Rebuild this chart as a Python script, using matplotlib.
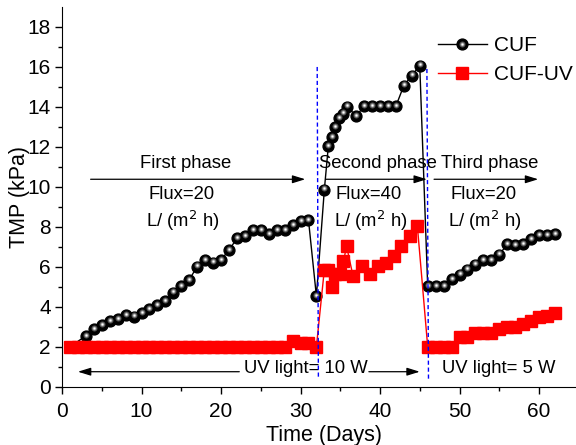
import matplotlib
matplotlib.use("Agg")
import matplotlib.pyplot as plt
import matplotlib.transforms as mtransforms
from matplotlib.legend_handler import HandlerTuple

plt.rcParams['font.family'] = ['Liberation Sans', 'DejaVu Sans']

# CUF (membrane without UV)
cuf_days = [1, 3, 4, 5, 6, 7, 8, 9, 10, 11, 12, 13, 14, 15, 16, 17, 18, 19, 20,
            21, 22, 23, 24, 25, 26, 27, 28, 29, 30, 31, 32,
            33, 33.5, 33.9, 34.3, 34.8, 35.4, 35.9, 37, 38, 39, 40, 41, 42, 43, 44, 45,
            46, 47, 48, 49, 50, 51, 52, 53, 54, 55, 56, 57, 58, 59, 60, 61, 62]
cuf_tmp = [2.0, 2.54, 2.87, 3.09, 3.29, 3.37, 3.57, 3.51, 3.68, 3.89, 4.08, 4.29,
           4.71, 5.04, 5.35, 6.01, 6.35, 6.21, 6.35, 6.83, 7.42, 7.55, 7.85, 7.85,
           7.62, 7.85, 7.85, 8.09, 8.29, 8.35, 4.53,
           9.86, 12.03, 12.5, 13.0, 13.45, 13.67, 14.01, 13.54, 14.04, 14.04, 14.04,
           14.04, 14.04, 15.07, 15.57, 16.07,
           5.02, 5.02, 5.02, 5.39, 5.61, 5.86, 6.11, 6.33, 6.33, 6.61, 7.12, 7.07,
           7.12, 7.37, 7.58, 7.58, 7.62]

# CUF-UV
uv_days = [1, 2, 3, 4, 5, 6, 7, 8, 9, 10, 11, 12, 13, 14, 15, 16, 17, 18, 19, 20,
           21, 22, 23, 24, 25, 26, 27, 28, 29, 30, 31, 32,
           33, 33.5, 33.9, 34.3, 35.0, 35.4, 35.8, 36.6, 37.7, 38.7, 39.8, 40.8,
           41.8, 42.7, 43.8, 44.7,
           46, 47, 48, 49, 50, 51, 52, 53, 54, 55, 56, 57, 58, 59, 60, 61, 62]
uv_tmp = [2.0] * 28 + [2.3, 2.2, 2.2, 2.0] + \
         [5.86, 5.86, 5.0, 5.65, 5.65, 6.27, 7.03, 5.55, 6.06, 5.62, 6.06, 6.2,
          6.53, 7.03, 7.52, 8.04] + \
         [2.0, 2.0, 2.0, 2.0, 2.5, 2.5, 2.7, 2.7, 2.7, 2.9, 3.0, 3.0, 3.15, 3.3,
          3.5, 3.55, 3.7]

fig = plt.figure(figsize=(5.76, 4.45), dpi=100)
ax = fig.add_axes([62 / 576, (445 - 386.7) / 445, 524.7 / 576, 379.7 / 445])

# spheres: black ball + shaded highlight
l_cuf, = ax.plot(cuf_days, cuf_tmp, '-', color='black', lw=1.0, marker='o',
                 ms=7.8, mfc='black', mec='black', zorder=3)
hl = mtransforms.offset_copy(ax.transData, fig=fig, x=0.0, y=0.9, units='points')
l_g1, = ax.plot(cuf_days, cuf_tmp, 'none', marker='o', ms=4.4, mfc='#4a4a4a',
                mec='none', transform=hl, zorder=3)
l_g2, = ax.plot(cuf_days, cuf_tmp, 'none', marker='o', ms=2.9, mfc='#9a9a9a',
                mec='none', transform=hl, zorder=3)
l_w, = ax.plot(cuf_days, cuf_tmp, 'none', marker='o', ms=1.5, mfc='white',
               mec='none', transform=hl, zorder=3)

l_uv, = ax.plot(uv_days, uv_tmp, '-', color='red', lw=1.0, marker='s', ms=8.2,
                mfc='red', mec='red', zorder=4)

# phase separators
ax.plot([32.1, 32.25], [16.0, 0.45], color='blue', lw=1.0, ls=(0, (3, 2)), zorder=5)
ax.plot([45.9, 46.1], [15.9, 0.3], color='blue', lw=1.0, ls=(0, (3, 2)), zorder=5)

arr = dict(arrowstyle='-|>,head_length=0.55,head_width=0.17', color='black',
           lw=0.9, mutation_scale=14, shrinkA=0, shrinkB=0)
for x0, x1 in [(3.6, 30.6), (33.2, 45.9), (46.8, 59.9)]:
    ax.annotate('', xy=(x1, 10.38), xytext=(x0, 10.38), arrowprops=arr)

fs = 13.3
ax.text(15.6, 11.15, 'First phase', fontsize=fs, ha='center', va='center')
ax.text(39.8, 11.15, 'Second phase', fontsize=fs, ha='center', va='center')
ax.text(53.8, 11.15, 'Third phase', fontsize=fs, ha='center', va='center')
for xc, flux in [(15.0, 'Flux=20'), (38.6, 'Flux=40'), (53.0, 'Flux=20')]:
    ax.text(xc, 9.6, flux, fontsize=fs, ha='center', va='center')
    ax.text(xc + 0.2, 8.3, 'L/ (m$^2$ h)', fontsize=fs, ha='center', va='center')

# UV light arrows
ax.annotate('', xy=(2.0, 0.75), xytext=(22.3, 0.75), arrowprops=arr)
ax.annotate('', xy=(45.0, 0.75), xytext=(38.6, 0.75), arrowprops=arr)
ax.text(30.7, 0.9, 'UV light= 10 W', fontsize=fs, ha='center', va='center')
ax.text(54.9, 0.9, 'UV light= 5 W', fontsize=fs, ha='center', va='center')

ax.set_xlim(0, 66)
ax.set_ylim(0, 19)
ax.set_xticks(range(0, 61, 10))
ax.set_xticks(range(5, 66, 10), minor=True)
ax.set_yticks(range(0, 19, 2))
ax.set_yticks(range(1, 19, 2), minor=True)
ax.tick_params(which='major', direction='out', length=5, width=1, labelsize=15)
ax.tick_params(axis='x', which='major', pad=6)
ax.tick_params(axis='y', which='major', pad=3)
ax.tick_params(which='minor', direction='out', length=3, width=1)
ax.spines['top'].set_visible(False)
ax.spines['right'].set_visible(False)
ax.set_xlabel('Time (Days)', fontsize=15.5, labelpad=3)
ax.set_ylabel('TMP (kPa)', fontsize=15.5, labelpad=-1.5)

leg = ax.legend([(l_cuf, l_g1, l_g2, l_w), l_uv], ['CUF', 'CUF-UV'],
                handler_map={tuple: HandlerTuple(ndivide=1)},
                loc='upper left', bbox_to_anchor=(0.700, 0.945), frameon=False,
                fontsize=15, handlelength=2.35, handletextpad=0.38,
                labelspacing=0.48, numpoints=1, borderaxespad=0)

fig.savefig('out.png', dpi=100)
